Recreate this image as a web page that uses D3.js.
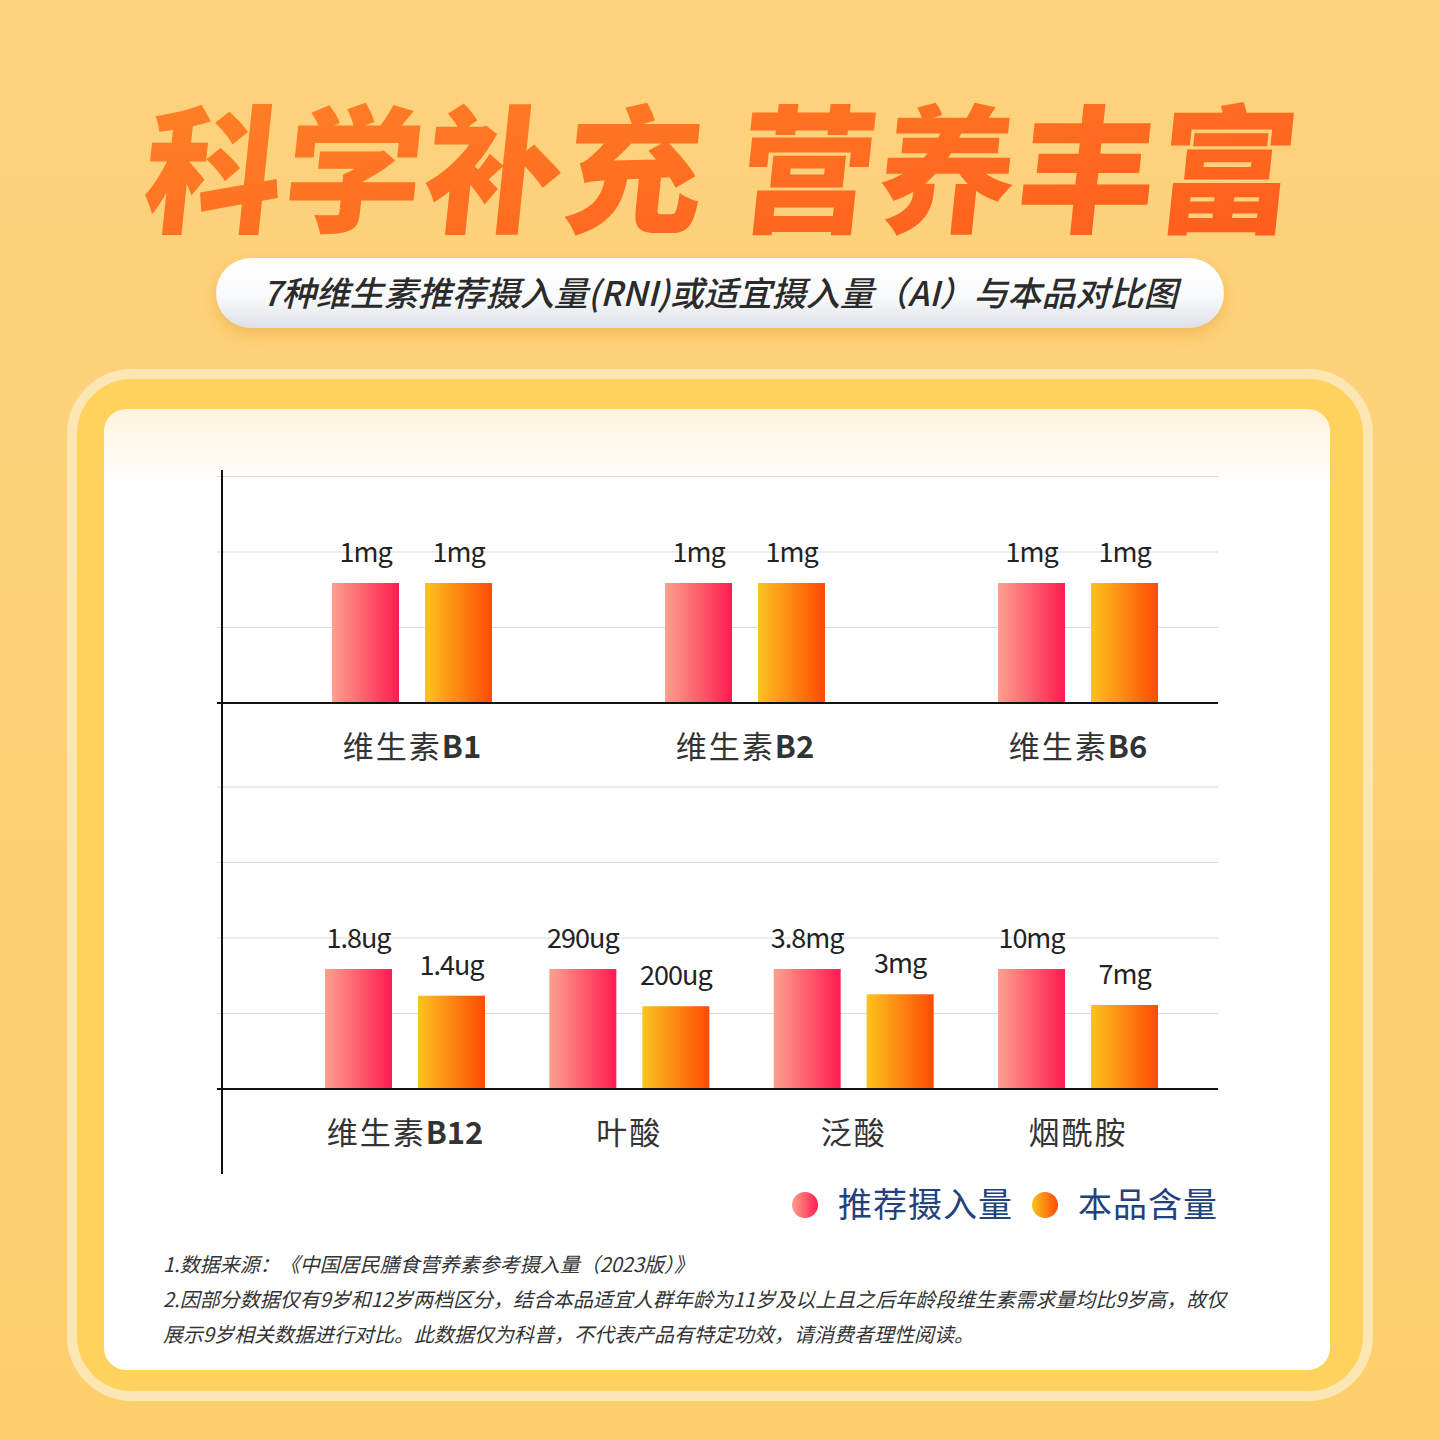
<!DOCTYPE html>
<html><head><meta charset="utf-8">
<script src="https://cdn.jsdelivr.net/npm/d3@7"></script>
<style>body{margin:0}svg{display:block}text{font-family:"Noto Sans CJK SC","Noto Sans",sans-serif}</style>
</head><body><svg id="c" width="1440" height="1440"></svg>
<script>
const topCats = ["维生素B1","维生素B2","维生素B6"];
const topRNI = [1,1,1];
const topProd = [1,1,1];
const topRNILabels = ["1mg","1mg","1mg"];
const topProdLabels = ["1mg","1mg","1mg"];
const botCats = ["维生素B12","叶酸","泛酸","烟酰胺"];
const botRNI = [1.8,290,3.8,10];
const botProd = [1.4,200,3,7];
const botRNILabels = ["1.8ug","290ug","3.8mg","10mg"];
const botProdLabels = ["1.4ug","200ug","3mg","7mg"];
const seriesNames = ["推荐摄入量","本品含量"];
const footnotes = ["1.数据来源：《中国居民膳食营养素参考摄入量（2023版）》",
"2.因部分数据仅有9岁和12岁两档区分，结合本品适宜人群年龄为11岁及以上且之后年龄段维生素需求量均比9岁高，故仅",
"展示9岁相关数据进行对比。此数据仅为科普，不代表产品有特定功效，请消费者理性阅读。"];

const svg = d3.select("#c");
const defs = svg.append("defs");
function lg(id, stops, x2=1, y2=0){const g=defs.append("linearGradient").attr("id",id).attr("x1",0).attr("y1",0).attr("x2",x2).attr("y2",y2);
 stops.forEach(([o,c])=>g.append("stop").attr("offset",o).attr("stop-color",c));}
lg("bg",[[0,"#fdd27e"],[1,"#fdcf6c"]],0,1);
lg("pink",[[0,"#fca18c"],[1,"#fe1c4f"]]);
lg("orng",[[0,"#fcc31f"],[1,"#fe4a05"]]);
lg("title",[[0,"#ff8427"],[1,"#ff5a1c"]],1,1);
lg("pill",[[0,"#ffffff"],[0.55,"#f9fafb"],[1,"#dde1e8"]],0,1);
lg("card",[[0,"#fff3dc"],[0.08,"#ffffff"],[1,"#ffffff"]],0,1);
const f=defs.append("filter").attr("id","sh").attr("x",-0.1).attr("y",-0.5).attr("width",1.2).attr("height",2);
f.append("feDropShadow").attr("dx",0).attr("dy",6).attr("stdDeviation",8).attr("flood-color","#e08a20").attr("flood-opacity",0.35);

svg.append("rect").attr("width",1440).attr("height",1440).attr("fill","url(#bg)");
// title
svg.append("text").attr("x",720).attr("y",222).attr("text-anchor","middle")
 .attr("font-size",138).attr("font-weight",900).attr("fill","url(#title)")
 .attr("transform","translate(20,0) skewX(-6)").attr("letter-spacing",2).text("科学补充 营养丰富");
// pill
svg.append("rect").attr("x",216).attr("y",258).attr("width",1008).attr("height",70).attr("rx",35)
 .attr("fill","url(#pill)").attr("filter","url(#sh)");
svg.append("text").attr("x",720).attr("y",306).attr("text-anchor","middle").attr("font-size",34)
 .attr("font-style","italic").attr("font-weight",500).attr("fill","#2b2b2b")
 .text("7种维生素推荐摄入量(RNI)或适宜摄入量（AI）与本品对比图");
// frame
svg.append("rect").attr("x",72).attr("y",374).attr("width",1296).attr("height",1022).attr("rx",60)
 .attr("fill","#fed25c").attr("stroke","#fce6b4").attr("stroke-width",10);
svg.append("rect").attr("x",104).attr("y",409).attr("width",1226).attr("height",961).attr("rx",22).attr("fill","url(#card)");

const xL=217,xR=1218,axisX=222;
function panel(cats,rni,prod,rl,pl,base,gridTop,range){
  const x=d3.scalePoint().domain(cats).range(range);
  const ratio=cats.map((c,i)=>({c,a:rni[i]/rni[i],b:prod[i]/rni[i],la:rl[i],lb:pl[i]}));
  const y=d3.scaleLinear().domain([0,1]).range([base,base-120]);
  const step=75.5;
  const g=svg.append("g");
  const lines=d3.range(1,Math.round((base-gridTop)/step)+1).map(k=>base-k*step);
  g.selectAll(".gl").data(lines).join("line").attr("x1",xL).attr("x2",xR).attr("y1",d=>d).attr("y2",d=>d)
   .attr("stroke","#d9d9d9").attr("stroke-width",1.2);
  const bw=67,off=46.5;
  const grp=g.selectAll(".gp").data(ratio).join("g");
  grp.append("rect").attr("x",d=>x(d.c)-off-bw/2).attr("width",bw).attr("y",d=>y(d.a)).attr("height",d=>base-y(d.a)).attr("fill","url(#pink)");
  grp.append("rect").attr("x",d=>x(d.c)+off-bw/2).attr("width",bw).attr("y",d=>y(d.b)).attr("height",d=>base-y(d.b)).attr("fill","url(#orng)");
  const lab=(sel,dx,key,lk)=>sel.append("text").attr("x",d=>x(d.c)+dx).attr("y",d=>y(d[key])-21)
   .attr("text-anchor","middle").attr("font-family","Roboto,sans-serif").attr("font-size",27).attr("fill","#222").attr("letter-spacing",-1).text(d=>d[lk]);
  lab(grp,-off,"a","la"); lab(grp,off,"b","lb");
  grp.append("text").attr("x",d=>x(d.c)).attr("y",base+55).attr("text-anchor","middle").attr("font-size",31).attr("fill","#333")
   .each(function(d){const m=d.c.match(/^(.*?)(B\d+)?$/);const t=d3.select(this);
     t.append("tspan").attr("letter-spacing",2).text(m[1]); if(m[2]) t.append("tspan").attr("font-weight",700).text(m[2]);});
  g.append("line").attr("x1",xL).attr("x2",xR).attr("y1",base).attr("y2",base).attr("stroke","#111").attr("stroke-width",2);
}
panel(topCats,topRNI,topProd,topRNILabels,topProdLabels,703,477,[412,1078]);
panel(botCats,botRNI,botProd,botRNILabels,botProdLabels,1089,779,[405,1078]);
svg.append("line").attr("x1",axisX).attr("x2",axisX).attr("y1",470).attr("y2",1174).attr("stroke","#111").attr("stroke-width",2);

// legend
const leg=[{n:seriesNames[0],f:"url(#pink)",cx:805,tx:838},{n:seriesNames[1],f:"url(#orng)",cx:1045,tx:1078}];
leg.forEach(d=>{svg.append("circle").attr("cx",d.cx).attr("cy",1205).attr("r",13).attr("fill",d.f);
 svg.append("text").attr("x",d.tx).attr("y",1217).attr("font-size",34).attr("fill","#23427c").attr("letter-spacing",1).text(d.n);});
// footnotes
footnotes.forEach((t,i)=>svg.append("text").attr("x",163).attr("y",1272+i*35).attr("font-size",20).attr("font-style","italic").attr("fill","#333").text(t));
</script></body></html>
